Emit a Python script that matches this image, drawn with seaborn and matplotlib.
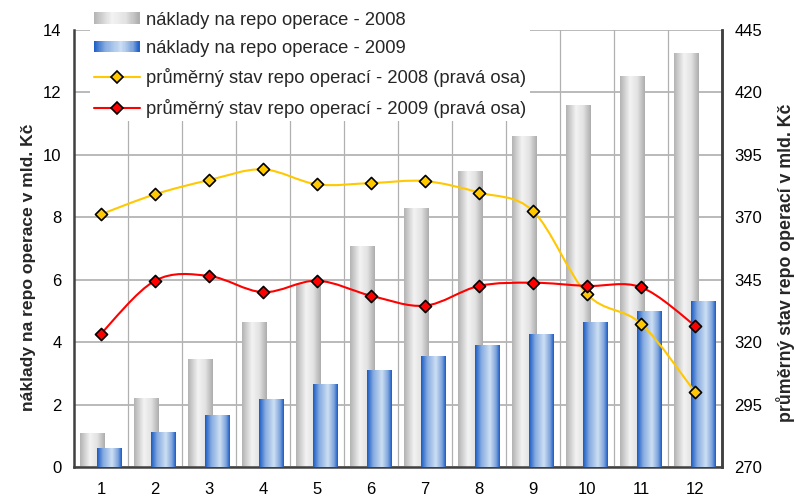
import numpy as np
import pandas as pd
import matplotlib
matplotlib.use("Agg")
import matplotlib.pyplot as plt
import seaborn as sns
from matplotlib.colors import LinearSegmentedColormap
from matplotlib.path import Path
from matplotlib.patches import PathPatch, Rectangle
from matplotlib.lines import Line2D
from matplotlib.legend_handler import HandlerBase
from matplotlib.ticker import FixedLocator

# data
months = ["1", "2", "3", "4", "5", "6", "7", "8", "9", "10", "11", "12"]
naklady_2008 = [1.1, 2.2, 3.45, 4.65, 5.87, 7.08, 8.3, 9.49, 10.6, 11.6, 12.53, 13.27]
naklady_2009 = [0.6, 1.12, 1.67, 2.18, 2.66, 3.11, 3.56, 3.91, 4.26, 4.65, 5.0, 5.32]
stav_2008 = [371.2, 379.2, 384.9, 389.2, 383.2, 383.7, 384.5, 379.9, 372.5, 339.2, 327.4, 300.0]
stav_2009 = [323.4, 344.6, 346.5, 340.0, 344.6, 338.6, 334.6, 342.5, 343.8, 342.5, 342.0, 326.6]

lab_n08 = "náklady na repo operace - 2008"
lab_n09 = "náklady na repo operace - 2009"
lab_s08 = "průměrný stav repo operací - 2008 (pravá osa)"
lab_s09 = "průměrný stav repo operací - 2009 (pravá osa)"

sns.set_theme(style="white")
plt.rcParams["font.family"] = ["Liberation Sans", "DejaVu Sans"]

gray_cmap = LinearSegmentedColormap.from_list(
    "g", [(0, "#b3b3b3"), (0.4, "#f3f3f3"), (0.7, "#e2e2e2"), (1, "#adadad")])
blue_cmap = LinearSegmentedColormap.from_list(
    "b", [(0, "#1a5cc4"), (0.25, "#86abe0"), (0.6, "#cddff4"), (0.85, "#7ea4dc"), (1, "#1b5dc8")])

df = pd.DataFrame({
    "mesic": months * 2,
    "hodnota": naklady_2008 + naklady_2009,
    "rok": [lab_n08] * 12 + [lab_n09] * 12,
})

fig = plt.figure(figsize=(7.96, 5.0), dpi=100)
ax = fig.add_axes([74 / 796, 33 / 500, 648 / 796, 437 / 500])

sns.barplot(data=df, x="mesic", y="hodnota", hue="rok", width=0.63,
            palette=["#d0d0d0", "#5080d0"], legend=False, ax=ax)

# widen bars so they overlap like the original
bar_w = 0.46
for p in ax.patches:
    cx = p.get_x() + p.get_width() / 2
    p.set_x(cx - bar_w / 2)
    p.set_width(bar_w)

# gradient fill clipped to each bar
grad = np.linspace(0, 1, 64).reshape(1, -1)
for i, p in enumerate(ax.patches):
    cmap = gray_cmap if i < 12 else blue_cmap
    x0, y0 = p.get_x(), p.get_y()
    w, h = p.get_width(), p.get_height()
    im = ax.imshow(grad, cmap=cmap, aspect="auto", extent=[x0, x0 + w, y0, y0 + h],
                   interpolation="bilinear", zorder=2 + (0 if i < 12 else 1))
    im.set_clip_path(p)
    p.set_facecolor("none")
    p.set_edgecolor("none")

ax.set_xlim(-0.5, 11.5)
ax.set_ylim(0, 14)
ax.set_yticks(np.arange(0, 15, 2))
ax.xaxis.set_minor_locator(FixedLocator(np.arange(0.5, 11, 1)))
ax.grid(axis="y", which="major", color="#b4b4b4", lw=1.3, zorder=0)
ax.grid(axis="x", which="minor", color="#b0b0b0", lw=0.9, zorder=0)
ax.grid(axis="x", which="major", visible=False)
ax.set_axisbelow(True)
ax.tick_params(axis="both", which="both", length=0, labelsize=12, colors="black")
ax.tick_params(axis="y", pad=9)
ax.tick_params(axis="x", pad=11)
ax.set_xlabel("")
ax.set_ylabel("náklady na repo operace v mld. Kč", fontsize=12.6, fontweight="bold", labelpad=5)
ax.yaxis.label.set_y(0.458)

for s in ["left", "bottom", "right"]:
    ax.spines[s].set_color("#404040")
    ax.spines[s].set_linewidth(1.8)
ax.spines["top"].set_visible(False)

# right axis with smoothed lines
ax2 = ax.twinx()
ax2.set_ylim(270, 445)
ax2.set_yticks(np.arange(270, 446, 25))
ax2.tick_params(axis="y", length=0, labelsize=12, pad=9, colors="black")
ax2.set_ylabel("průměrný stav repo operací v mld. Kč", fontsize=12.8, fontweight="bold",
               rotation=90, labelpad=10)
ax2.yaxis.label.set_y(0.467)
for s in ["left", "bottom", "top"]:
    ax2.spines[s].set_visible(False)
ax2.spines["right"].set_color("#404040")
ax2.spines["right"].set_linewidth(1.8)
ax2.grid(False)


def smooth_path(xs, ys, t=1 / 6):
    pts = np.column_stack([xs, ys]).astype(float)
    verts = [pts[0]]
    codes = [Path.MOVETO]
    n = len(pts)
    for i in range(n - 1):
        p0 = pts[i - 1] if i > 0 else pts[i]
        p1, p2 = pts[i], pts[i + 1]
        p3 = pts[i + 2] if i + 2 < n else pts[i + 1]
        c1 = p1 + (p2 - p0) * t
        c2 = p2 - (p3 - p1) * t
        verts += [c1, c2, p2]
        codes += [Path.CURVE4] * 3
    return Path(verts, codes)


xpos = np.arange(len(months))
for vals, col in [(stav_2008, "#ffc800"), (stav_2009, "#ff0000")]:
    ax2.add_patch(PathPatch(smooth_path(xpos, vals), facecolor="none", edgecolor=col, lw=1.5, zorder=3))
    sns.scatterplot(x=xpos, y=vals, marker="D", s=38, color=col, edgecolor="black",
                    linewidth=1.2, zorder=4, ax=ax2, legend=False)
ax2.set_xlim(-0.5, 11.5)


class GradHandler(HandlerBase):
    def __init__(self, cmap):
        super().__init__()
        self.cmap = cmap

    def create_artists(self, legend, orig_handle, xdescent, ydescent, width, height, fontsize, trans):
        n = 40
        out = []
        for k in range(n):
            out.append(Rectangle((-xdescent + width * k / n, -ydescent), width / n * 1.05, height,
                                 facecolor=self.cmap((k + 0.5) / n), edgecolor="none", transform=trans))
        return out


h_g = Rectangle((0, 0), 1, 1)
h_b = Rectangle((0, 0), 1, 1, fill=False)
h_y = Line2D([], [], color="#ffc800", lw=1.5, marker="D", markersize=6,
             markerfacecolor="#ffc800", markeredgecolor="black", markeredgewidth=1.2)
h_r = Line2D([], [], color="#ff0000", lw=1.5, marker="D", markersize=6,
             markerfacecolor="#ff0000", markeredgecolor="black", markeredgewidth=1.2)
leg = ax2.legend([h_g, h_b, h_y, h_r], [lab_n08, lab_n09, lab_s08, lab_s09],
                 handler_map={h_g: GradHandler(gray_cmap), h_b: GradHandler(blue_cmap)},
                 loc="upper left", bbox_to_anchor=(90 / 796, 1 - 8 / 500), bbox_transform=fig.transFigure,
                 fontsize=13.2, frameon=True, facecolor="white", edgecolor="none", framealpha=1,
                 fancybox=False, handlelength=2.5, handleheight=0.6, handletextpad=0.35,
                 labelspacing=0.62, borderpad=0.2, borderaxespad=0)
leg.set_zorder(10)

fig.savefig("out.png", dpi=100, facecolor="white")
